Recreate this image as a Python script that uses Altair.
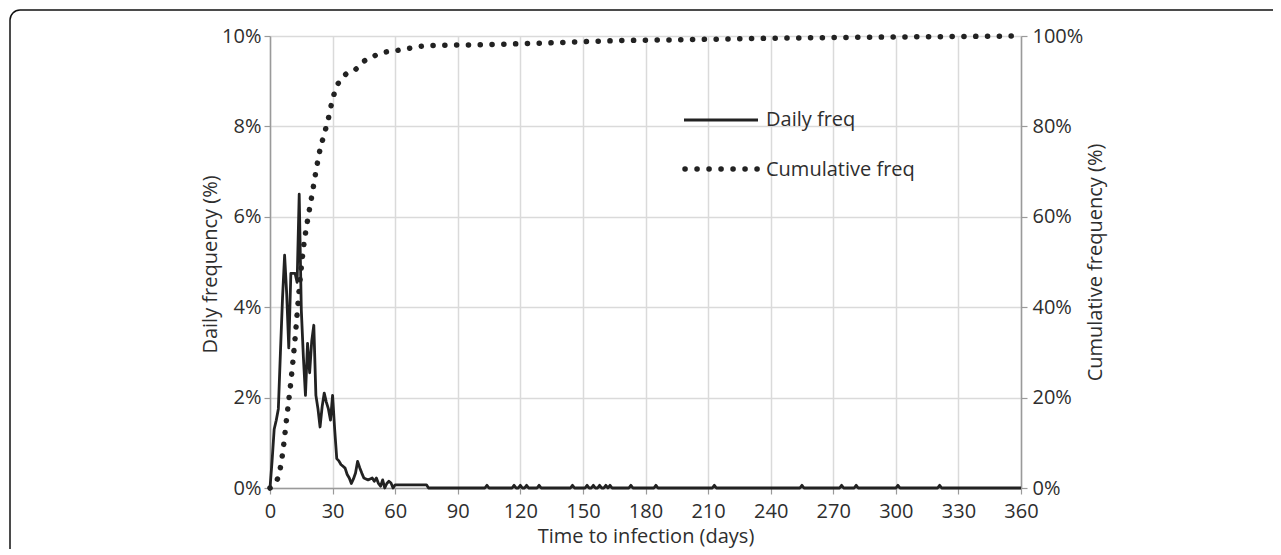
import altair as alt
import pandas as pd

# ---------------- data ----------------
# Daily frequency (%), early period (days 0..60, then a flat tail to day 75)
early_days = list(range(0, 61)) + [75, 76]
early_vals = [0, 0.6, 1.3, 1.5, 1.75, 3.0, 4.2, 5.15, 4.3, 3.1,
              4.75, 4.75, 4.75, 4.55, 6.5, 3.95, 2.9, 2.05, 3.2, 2.55,
              3.25, 3.6, 2.05, 1.75, 1.35, 1.8, 2.1, 1.9, 1.75, 1.5,
              2.05, 1.3, 0.65, 0.6, 0.52, 0.48, 0.44, 0.3, 0.22, 0.1,
              0.2, 0.33, 0.59, 0.45, 0.33, 0.22, 0.2, 0.18, 0.2, 0.22,
              0.15, 0.22, 0.1, 0.04, 0.18, 0.0, 0.1, 0.15, 0.11, 0.0,
              0.07, 0.07, 0.0]

# Isolated single-day cases later on
blip_days = [104, 117, 120, 123, 129, 145, 152, 155, 158, 161, 163,
             173, 185, 213, 255, 274, 281, 301, 321]
blip_vals = [0.06] * len(blip_days)
last_day = 360

# Cumulative frequency (%)
cum_days = [0, 1, 2, 3, 4, 6, 8, 10, 12, 14, 16, 18, 20, 22, 24, 26, 28, 30,
            32, 36, 41, 45, 50, 55, 61, 66, 72, 78, 90, 105, 120, 135, 160,
            200, 240, 280, 320, 360]
cum_vals = [0, 0.3, 0.8, 1.5, 2.5, 7.5, 15.5, 23.5, 33, 44, 53, 59.2, 64.5,
            70, 74.9, 78.3, 81.8, 86, 88.8, 91.4, 92.6, 94.4, 95.6, 96.4,
            96.8, 97.2, 97.7, 97.9, 98.0, 98.1, 98.3, 98.5, 98.9, 99.2,
            99.5, 99.7, 99.85, 100]

y_left_ticks = [0, 2, 4, 6, 8, 10]
y_right_ticks = [0, 20, 40, 60, 80, 100]
x_ticks = list(range(0, 361, 30))
legend_labels = ["Daily freq", "Cumulative freq"]

# ---------------- tables ----------------
pts = {d: v for d, v in zip(early_days, early_vals)}
for d, v in zip(blip_days, blip_vals):
    pts.setdefault(d - 1, 0.0)
    pts[d] = v
    pts.setdefault(d + 1, 0.0)
pts.setdefault(last_day, 0.0)
df_daily = pd.DataFrame(sorted(pts.items()), columns=["day", "daily"])
df_cum = pd.DataFrame({"day": cum_days, "cum": cum_vals})

FONT = "Open Sans"
TXT = "#2e2e2e"
AX = "#9a9a9a"
GRID = "#dadada"
INK = "#222222"
FS = 20

x_enc = alt.X(
    "day:Q",
    scale=alt.Scale(domain=[0, 360], nice=False, zero=True),
    axis=alt.Axis(
        values=x_ticks, title="Time to infection (days)", grid=True,
        gridColor=GRID, gridWidth=1.5, domainColor=AX, domainWidth=1.5,
        tickColor=AX, tickSize=6, tickWidth=1.2, labelPadding=7,
        labelFlush=False, labelOverlap=False,
        labelFont=FONT, labelFontSize=FS, labelColor=TXT,
        titleFont=FONT, titleFontSize=FS, titleFontWeight="normal",
        titleColor=TXT, titleY=48, titleBaseline="middle",
    ),
)

cum = alt.Chart(df_cum).mark_line(
    color=INK, strokeWidth=5.5, strokeDash=[0.1, 11.7], strokeCap="round",
    interpolate="monotone",
).encode(
    x=x_enc,
    y=alt.Y(
        "cum:Q", scale=alt.Scale(domain=[0, 100], nice=False),
        axis=alt.Axis(
            orient="right", values=y_right_ticks, labelExpr="datum.value + '%'",
            title="Cumulative frequency (%)", grid=False,
            domainColor=AX, domainWidth=1.5, tickColor=AX, tickSize=6,
            tickWidth=1.2, labelPadding=5,
            labelFont=FONT, labelFontSize=FS, labelColor=TXT,
            titleFont=FONT, titleFontSize=FS, titleFontWeight="normal",
            titleColor=TXT, titleAngle=270, titleX=74, titleY=226,
            titleAlign="center", titleBaseline="middle",
        ),
    ),
)

daily = alt.Chart(df_daily).mark_line(
    color=INK, strokeWidth=2.8, strokeJoin="round",
).encode(
    x=x_enc,
    y=alt.Y(
        "daily:Q", scale=alt.Scale(domain=[0, 10], nice=False),
        axis=alt.Axis(
            orient="left", values=y_left_ticks, labelExpr="datum.value + '%'",
            title="Daily frequency (%)", grid=True, gridColor=GRID,
            gridWidth=1.5, domainColor=AX, domainWidth=1.5, tickColor=AX,
            tickSize=6, tickWidth=1.2, labelPadding=3,
            labelFont=FONT, labelFontSize=FS, labelColor=TXT,
            titleFont=FONT, titleFontSize=FS, titleFontWeight="normal",
            titleColor=TXT, titleAngle=270, titleX=-60, titleY=228,
            titleAlign="center", titleBaseline="middle",
        ),
    ),
)

one = alt.Data(values=[{"k": 0}])

leg_line = alt.Chart(one).mark_rule(color=INK, strokeWidth=2.8).encode(
    x=alt.value(414), x2=alt.value(488), y=alt.value(84)
)
leg_dots = alt.Chart(one).mark_rule(
    color=INK, strokeWidth=5.5, strokeDash=[0.1, 11.9], strokeCap="round"
).encode(x=alt.value(415), x2=alt.value(488), y=alt.value(133))
leg_t1 = alt.Chart(one).mark_text(
    text=legend_labels[0], font=FONT, fontSize=FS, color=TXT,
    align="left", baseline="middle",
).encode(x=alt.value(496), y=alt.value(84))
leg_t2 = alt.Chart(one).mark_text(
    text=legend_labels[1], font=FONT, fontSize=FS, color=TXT,
    align="left", baseline="middle",
).encode(x=alt.value(496), y=alt.value(134))

frame = alt.Chart(one).mark_rect(
    fillOpacity=0, stroke="#111111", strokeWidth=1.5, cornerRadius=10,
).encode(x=alt.value(-260), x2=alt.value(1200), y=alt.value(-26),
         y2=alt.value(700))

chart = alt.layer(
    frame, cum, daily, leg_line, leg_dots, leg_t1, leg_t2
).resolve_scale(y="independent").properties(
    width=751, height=452,
    padding={"left": 262, "top": 28, "right": 252, "bottom": 61},
    autosize=alt.AutoSizeParams(type="none"),
    background="white",
).configure_view(stroke="transparent")

chart.save("out.html", embed_options={"renderer": "svg", "actions": False})
